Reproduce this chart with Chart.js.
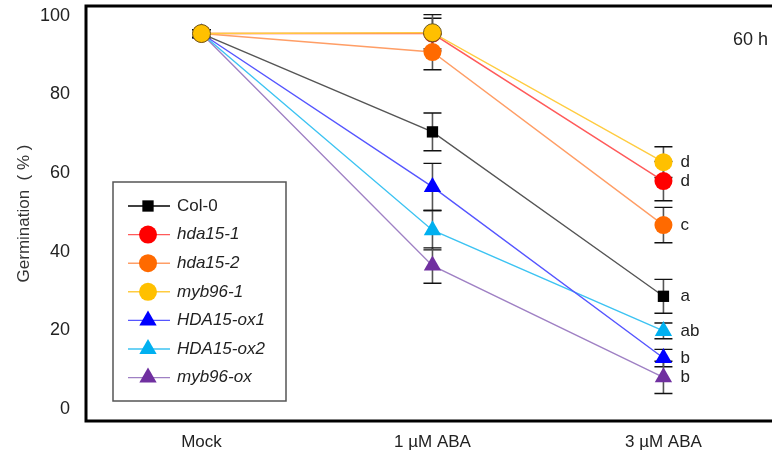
<!DOCTYPE html>
<html>
<head>
<meta charset="utf-8">
<script src="https://cdn.jsdelivr.net/npm/chart.js@4.4.1/dist/chart.umd.min.js"></script>
<style>
  html, body { margin: 0; padding: 0; background: #fff; overflow: hidden; }
  canvas { display: block; }
</style>
</head>
<body>
<canvas id="chart" width="772" height="456"></canvas>
<script>
const treatments = ['Mock', '1 \u00b5M ABA', '3 \u00b5M ABA'];
const yTicks = [0, 20, 40, 60, 80, 100];

const lineNames = ['Col-0', 'hda15-1', 'hda15-2', 'myb96-1', 'HDA15-ox1', 'HDA15-ox2', 'myb96-ox'];

// germination %, one value per treatment
const col0     = [95.5, 70.5, 28.7];
const hda15_1  = [95.5, 95.5, 58.0];
const hda15_2  = [95.5, 90.8, 46.8];
const myb96_1  = [95.5, 95.7, 62.8];
const hdaOx1   = [95.5, 56.5, 13.0];
const hdaOx2   = [95.5, 45.5, 19.9];
const myb96Ox  = [95.5, 36.5, 8.1];

// error bars
const col0Err    = [1, 4.8, 4.3];
const hda15_1Err = [1, 3.9, 5.0];
const hda15_2Err = [1, 4.5, 4.5];
const myb96_1Err = [1, 4.6, 3.9];
const hdaOx1Err  = [1, 6.0, 2.2];
const hdaOx2Err  = [1, 5.0, 2.0];
const myb96OxErr = [1, 4.5, 4.1];

// letters next to the 3 uM ABA points
const letters = ['a', 'd', 'c', 'd', 'b', 'ab', 'b'];

const values = [col0, hda15_1, hda15_2, myb96_1, hdaOx1, hdaOx2, myb96Ox];
const errors = [col0Err, hda15_1Err, hda15_2Err, myb96_1Err, hdaOx1Err, hdaOx2Err, myb96OxErr];

const looks = [
  { fill: '#000000', line: '#555555', style: 'rect', r: 8 },
  { fill: '#FF0000', line: '#FF5a5a', style: 'circle', r: 9 },
  { fill: '#FF6A00', line: '#FF9e66', style: 'circle', r: 9 },
  { fill: '#FFC000', line: '#FFCC40', style: 'circle', r: 9 },
  { fill: '#0000FF', line: '#5555FF', style: 'triangle', r: 10 },
  { fill: '#00B0F0', line: '#3CC3F2', style: 'triangle', r: 10 },
  { fill: '#7030A0', line: '#9F80C4', style: 'triangle', r: 10 },
];
const drawOrder = [3, 4, 2, 0, 5, 6, 7];

const FONT = '"Liberation Sans", Arial, sans-serif';

const datasets = lineNames.map((name, i) => ({
  label: name,
  data: values[i].map((v, j) => ({ x: j, y: v })),
  borderColor: looks[i].line,
  borderWidth: 1.4,
  backgroundColor: looks[i].fill,
  pointBackgroundColor: looks[i].fill,
  pointBorderColor: i === 3 ? ['#6b5a20', '#6b5a20', looks[i].fill] : looks[i].fill,
  pointBorderWidth: i === 3 ? [1, 1, 0] : 0,
  pointStyle: looks[i].style,
  pointRadius: looks[i].r,
  pointHoverRadius: looks[i].r,
  tension: 0,
  order: drawOrder[i],
}));

function marker(ctx, style, x, y, r, color) {
  ctx.fillStyle = color;
  ctx.beginPath();
  if (style === 'circle') {
    ctx.arc(x, y, r, 0, Math.PI * 2);
  } else if (style === 'rect') {
    const s = r / Math.SQRT2;
    ctx.rect(x - s, y - s, 2 * s, 2 * s);
  } else {
    for (let k = 0; k < 3; k++) {
      const a = k * 2 * Math.PI / 3;
      const px = x + Math.sin(a) * r, py = y - Math.cos(a) * r;
      if (k === 0) ctx.moveTo(px, py); else ctx.lineTo(px, py);
    }
    ctx.closePath();
  }
  ctx.fill();
}

const extras = {
  id: 'extras',
  beforeDatasetsDraw(chart) {
    const { ctx } = chart;
    const y = chart.scales.y;
    ctx.save();
    chart.data.datasets.forEach((ds, i) => {
      const meta = chart.getDatasetMeta(i);
      meta.data.forEach((pt, j) => {
        const v = values[i][j], e = errors[i][j];
        const top = y.getPixelForValue(v + e), bot = y.getPixelForValue(v - e);
        ctx.strokeStyle = '#555';
        ctx.lineWidth = 1.6;
        ctx.beginPath(); ctx.moveTo(pt.x, top); ctx.lineTo(pt.x, bot); ctx.stroke();
        ctx.strokeStyle = '#111';
        ctx.lineWidth = 1.4;
        ctx.beginPath();
        ctx.moveTo(pt.x - 9, top); ctx.lineTo(pt.x + 9, top);
        ctx.moveTo(pt.x - 9, bot); ctx.lineTo(pt.x + 9, bot);
        ctx.stroke();
      });
    });
    ctx.restore();
  },
  afterDraw(chart) {
    const { ctx, chartArea: a } = chart;
    ctx.save();
    // frame
    ctx.strokeStyle = '#000';
    ctx.lineWidth = 3;
    ctx.beginPath();
    ctx.moveTo(a.right, a.top); ctx.lineTo(a.left, a.top);
    ctx.lineTo(a.left, a.bottom); ctx.lineTo(a.right, a.bottom);
    ctx.stroke();

    // significance letters
    ctx.fillStyle = '#222';
    ctx.font = '17px ' + FONT;
    ctx.textBaseline = 'middle';
    ctx.textAlign = 'left';
    chart.data.datasets.forEach((ds, i) => {
      const pt = chart.getDatasetMeta(i).data[2];
      ctx.fillText(letters[i], pt.x + 17, pt.y);
    });

    // time label
    ctx.font = '18px ' + FONT;
    ctx.textAlign = 'right';
    ctx.fillText('60 h', a.right - 4, a.top + 34);

    // legend
    const bx = 113, by = 182, bw = 173, bh = 219;
    ctx.fillStyle = '#fff';
    ctx.fillRect(bx, by, bw, bh);
    ctx.strokeStyle = '#555';
    ctx.lineWidth = 1.5;
    ctx.strokeRect(bx, by, bw, bh);
    lineNames.forEach((name, i) => {
      const ry = by + 24 + i * 28.6;
      ctx.strokeStyle = i === 0 ? '#000' : looks[i].line;
      ctx.lineWidth = 1.4;
      ctx.beginPath(); ctx.moveTo(bx + 15, ry); ctx.lineTo(bx + 57, ry); ctx.stroke();
      marker(ctx, looks[i].style, bx + 35, ry, looks[i].r, looks[i].fill);
      ctx.fillStyle = '#222';
      ctx.font = (i === 0 ? '' : 'italic ') + '17px ' + FONT;
      ctx.textAlign = 'left';
      ctx.fillText(name, bx + 64, ry);
    });
    ctx.restore();
  }
};

new Chart(document.getElementById('chart'), {
  type: 'line',
  data: { datasets },
  options: {
    responsive: false,
    animation: false,
    devicePixelRatio: 1,
    layout: { autoPadding: false, padding: { top: 6, right: 0, left: 0, bottom: 0 } },
    plugins: { legend: { display: false }, tooltip: { enabled: false } },
    scales: {
      x: {
        type: 'linear',
        min: -0.5,
        max: 2.47,
        grid: { display: false },
        border: { display: false },
        afterBuildTicks: s => { s.ticks = treatments.map((t, i) => ({ value: i })); },
        afterFit: s => { s.height = 35; s.paddingLeft = 0; s.paddingRight = 0; },
        ticks: {
          padding: 3,
          color: '#222',
          font: { size: 17, family: FONT },
          callback: v => treatments[v],
        },
      },
      y: {
        min: -3,
        max: 102.5,
        grid: { display: false },
        border: { display: false },
        afterBuildTicks: s => { s.ticks = yTicks.map(v => ({ value: v })); },
        afterFit: s => { s.width = 86; s.paddingTop = 0; s.paddingBottom = 0; },
        ticks: {
          padding: 8,
          color: '#222',
          font: { size: 18, family: FONT },
        },
        title: {
          display: true,
          text: 'Germination  ( % )',
          color: '#333',
          font: { size: 17, family: FONT },
          padding: { top: 14, bottom: 0 },
        },
      },
    },
  },
  plugins: [extras],
});
</script>
</body>
</html>
